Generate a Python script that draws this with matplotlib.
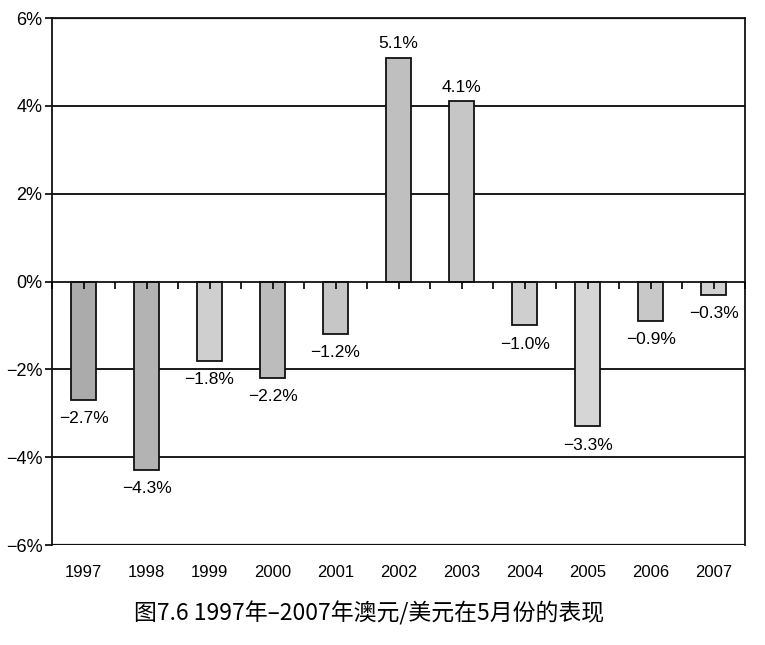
import matplotlib.pyplot as plt
import numpy as np

plt.rcParams['font.family'] = ['Liberation Sans', 'Noto Sans CJK SC', 'DejaVu Sans']

years = ['1997', '1998', '1999', '2000', '2001', '2002', '2003', '2004', '2005', '2006', '2007']
values = [-2.7, -4.3, -1.8, -2.2, -1.2, 5.1, 4.1, -1.0, -3.3, -0.9, -0.3]
yticks = [-6, -4, -2, 0, 2, 4, 6]
caption = '图7.6 1997年–2007年澳元/美元在5月份的表现'

bar_colors = ['#ababab', '#b3b3b3', '#cfcfcf', '#bcbcbc', '#c6c6c6', '#bfbfbf',
              '#c6c6c6', '#cfcfcf', '#d6d6d6', '#c8c8c8', '#d0d0d0']

fig = plt.figure(figsize=(7.65, 6.45), dpi=100)
ax = fig.add_axes([0.068, 0.155, 0.906, 0.817])

x = np.arange(len(years))

# horizontal grid lines behind the bars
for g in [-4, -2, 2, 4]:
    ax.axhline(g, color='#1a1a1a', lw=1.4, zorder=1)

ax.bar(x, values, width=0.4, color=bar_colors, edgecolor='#111111', lw=1.3, zorder=2)

for xi, v in zip(x, values):
    lab = f'{v:.1f}%'.replace('-', '\u2212')
    if v >= 0:
        ax.annotate(lab, (xi, v), xytext=(0, 5), textcoords='offset points',
                    ha='center', va='bottom', fontsize=12.5)
    else:
        ax.annotate(lab, (xi, v), xytext=(0, -8), textcoords='offset points',
                    ha='center', va='top', fontsize=12.5)

ax.set_xlim(-0.5, len(years) - 0.5)
ax.set_ylim(-6, 6)
ax.set_yticks(yticks)
ax.set_yticklabels([f'{t}%'.replace('-', '\u2212') for t in yticks], fontsize=13)
ax.tick_params(axis='y', length=5, width=1.2, pad=2)

# x axis sits on the zero line, ticks at centres and boundaries
ax.spines['bottom'].set_position(('data', 0))
ax.set_xticks(np.arange(-0.5, len(years), 0.5))
ax.set_xticklabels([])
ax.tick_params(axis='x', direction='out', length=5, width=1.2)
ax.xaxis.set_zorder(5)
for s in ax.spines.values():
    s.set_linewidth(1.3)
    s.set_color('#111111')
    s.set_zorder(5)

ax.axhline(6, color='#111111', lw=1.6, zorder=4)
ax.axhline(-6, color='#111111', lw=1.6, zorder=4)

for xi, yr in zip(x, years):
    ax.text(xi, -6.45, yr, ha='center', va='top', fontsize=12)

fig.text(0.483, 0.049, caption, ha='center', va='center', fontsize=16.5,
         family=['Noto Sans CJK SC', 'DejaVu Sans'])

fig.savefig('out.png', dpi=100)
